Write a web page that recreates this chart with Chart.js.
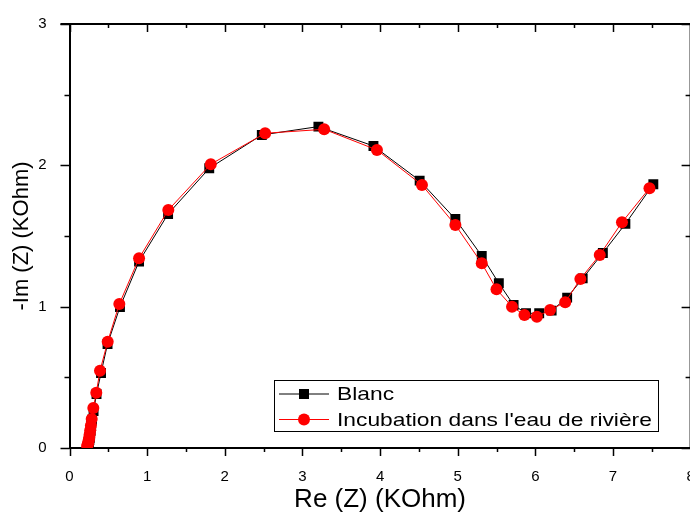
<!DOCTYPE html>
<html>
<head>
<meta charset="utf-8">
<title>Nyquist</title>
<script src="https://cdn.jsdelivr.net/npm/chart.js@4.4.1/dist/chart.umd.min.js"></script>
<style>
  html, body { margin:0; padding:0; background:#fff; overflow:hidden; }
  #wrap { width:700px; height:519px; }
</style>
</head>
<body>
<div id="wrap"><canvas id="c" width="700" height="519"></canvas></div>
<script>
/* ---------- data (KOhm) ---------- */
const blancRe = [0.24,0.243,0.247,0.251,0.256,0.261,0.266,0.272,0.279,0.29,0.31,0.348,0.406,0.49,0.65,0.896,1.27,1.80,2.477,3.206,3.915,4.51,4.97,5.31,5.53,5.72,5.88,6.05,6.21,6.41,6.61,6.87,7.16,7.52];
const blancIm = [0.012,0.02,0.03,0.042,0.056,0.073,0.095,0.122,0.157,0.2,0.262,0.382,0.531,0.736,0.998,1.32,1.656,1.979,2.215,2.274,2.137,1.892,1.62,1.359,1.166,1.012,0.953,0.953,0.972,1.064,1.20,1.38,1.586,1.866];

const rivRe = [0.228,0.233,0.238,0.243,0.248,0.254,0.26,0.267,0.276,0.286,0.307,0.345,0.393,0.492,0.642,0.896,1.273,1.82,2.52,3.28,3.96,4.54,4.97,5.31,5.50,5.70,5.86,6.02,6.19,6.385,6.58,6.83,7.116,7.47];
const rivIm = [0.014,0.021,0.031,0.043,0.057,0.075,0.097,0.125,0.16,0.205,0.283,0.391,0.547,0.752,1.019,1.343,1.684,2.008,2.227,2.255,2.109,1.861,1.578,1.307,1.123,1.0,0.941,0.929,0.977,1.031,1.196,1.366,1.597,1.838];

const seriesNames = ['Blanc', "Incubation dans l'eau de rivière"];
const xTicks = [0,1,2,3,4,5,6,7,8];
const yTicks = [0,1,2,3];

const FONT = '"Liberation Sans", Arial, sans-serif';
const toPts = (xs, ys) => xs.map((x,i) => ({ x, y: ys[i] }));

/* ---------- frame + minor/major ticks (Origin style) ---------- */
const framePlugin = {
  id: 'frame',
  afterDraw(chart){
    const { ctx, chartArea: a, scales: { x, y } } = chart;
    ctx.save();
    ctx.strokeStyle = '#000';
    ctx.lineWidth = 2;
    ctx.beginPath();
    ctx.moveTo(a.left - 9, a.top); ctx.lineTo(a.right, a.top);
    ctx.moveTo(a.right, a.top); ctx.lineTo(a.right, a.bottom);
    ctx.stroke();

    ctx.lineWidth = 1.5;
    ctx.beginPath();
    for (let v = x.min; v <= x.max + 1e-9; v += 0.5) {
      const px = Math.round(x.getPixelForValue(v)) + 0.5;
      const len = Number.isInteger(v) ? 8 : 4;
      ctx.moveTo(px, a.bottom); ctx.lineTo(px, a.bottom + len);   // out
      ctx.moveTo(px, a.top);    ctx.lineTo(px, a.top + len);      // in
    }
    for (let v = y.min; v <= y.max + 1e-9; v += 0.5) {
      const py = Math.round(y.getPixelForValue(v)) + 0.5;
      const len = Number.isInteger(v) ? 9 : 5;
      ctx.moveTo(a.left, py);  ctx.lineTo(a.left - len, py);      // out
      ctx.moveTo(a.right, py); ctx.lineTo(a.right - len, py);     // in
    }
    ctx.stroke();
    ctx.restore();
  }
};

/* ---------- boxed legend inside plot ---------- */
const boxLegend = {
  id: 'boxLegend',
  afterDraw(chart){
    const { ctx } = chart;
    const bx = 274, by = 380, bw = 384, bh = 51;
    ctx.save();
    ctx.fillStyle = '#fff';
    ctx.fillRect(bx, by, bw, bh);
    ctx.strokeStyle = '#000';
    ctx.lineWidth = 1;
    ctx.strokeRect(bx + 0.5, by + 0.5, bw, bh);

    chart.data.datasets.forEach((ds, i) => {
      const ly = 394 + i * 25.5;
      ctx.strokeStyle = ds.borderColor;
      ctx.lineWidth = 1;
      ctx.beginPath(); ctx.moveTo(279, ly); ctx.lineTo(329, ly); ctx.stroke();
      ctx.fillStyle = ds.pointBackgroundColor;
      if (ds.pointStyle === 'rect') ctx.fillRect(304 - 5, ly - 5, 10, 10);
      else { ctx.beginPath(); ctx.arc(304, ly, 6, 0, Math.PI * 2); ctx.fill(); }
      // text is a little wider than plain Arial in the source image
      ctx.save();
      ctx.translate(337, ly + 1);
      ctx.scale(1.2, 1);
      ctx.fillStyle = '#000';
      ctx.font = '19px ' + FONT;
      ctx.textBaseline = 'middle';
      ctx.fillText(ds.label, 0, 0);
      ctx.restore();
    });
    ctx.restore();
  }
};

new Chart(document.getElementById('c'), {
  type: 'scatter',
  data: {
    datasets: [
      { label: seriesNames[0], data: toPts(blancRe, blancIm), showLine: true,
        borderColor: '#000', borderWidth: 1, pointStyle: 'rect', pointRadius: 7,
        pointBackgroundColor: '#000', pointBorderWidth: 0, order: 2 },
      { label: seriesNames[1], data: toPts(rivRe, rivIm), showLine: true,
        borderColor: '#ff0000', borderWidth: 1, pointStyle: 'circle', pointRadius: 6,
        pointBackgroundColor: '#ff0000', pointBorderWidth: 0, order: 1 }
    ]
  },
  options: {
    responsive: false,
    animation: false,
    layout: { padding: { top: 24, right: 9.4, left: 0, bottom: 0 } },
    plugins: { legend: { display: false }, tooltip: { enabled: false } },
    scales: {
      x: {
        type: 'linear', min: 0, max: 8,
        afterBuildTicks: s => { s.ticks = xTicks.map(v => ({ value: v })); },
        afterFit: s => { s.height = 71; s.paddingRight = 0; s.paddingLeft = 0; },
        grid: { display: false },
        border: { display: true, color: '#000', width: 2 },
        ticks: { color: '#000', padding: 12, font: { family: FONT, size: 15 } },
        title: { display: true, text: 'Re (Z) (KOhm)', color: '#000',
                 font: { family: FONT, size: 26 }, padding: { top: 0, bottom: 4 } }
      },
      y: {
        type: 'linear', min: 0, max: 3,
        afterBuildTicks: s => { s.ticks = yTicks.map(v => ({ value: v })); },
        afterFit: s => { s.width = 69.5; s.paddingTop = 0; s.paddingBottom = 0; },
        grid: { display: false },
        border: { display: true, color: '#000', width: 2 },
        ticks: { color: '#000', padding: 15, font: { family: FONT, size: 15 } },
        title: { display: true, text: '-Im (Z) (KOhm)', color: '#000',
                 font: { family: FONT, size: 22 }, padding: { top: 9, bottom: 0 } }
      }
    }
  },
  plugins: [framePlugin, boxLegend]
});
</script>
</body>
</html>
